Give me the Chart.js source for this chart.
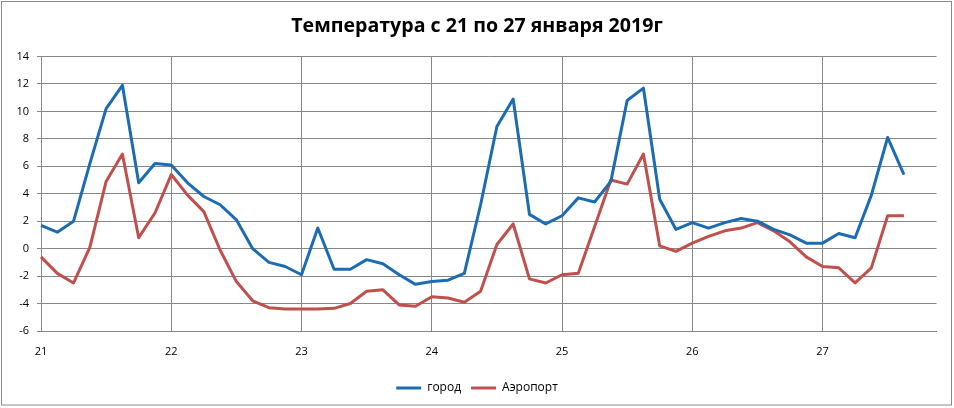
<!DOCTYPE html>
<html>
<head>
<meta charset="utf-8">
<script src="https://cdn.jsdelivr.net/npm/chart.js@4"></script>
<style>
    html, body { margin: 0; padding: 0; background: #ffffff; }
    #wrap { width: 954px; height: 408px; }
</style>
</head>
<body>
<div id="wrap"><canvas id="tempChart" width="954" height="408"></canvas></div>
<script>
// days on the x axis, 8 readings per day (every 3 hours)
const days = ['21', '22', '23', '24', '25', '26', '27'];
const pointsPerDay = 8;

const cityTemps = [1.7, 1.2, 2.0, 6.2, 10.2, 11.9, 4.8, 6.2, 6.1, 4.8, 3.8, 3.2, 2.1, 0.0, -1.0, -1.3, -1.9, 1.5,
    -1.5, -1.5, -0.8, -1.1, -1.9, -2.6, -2.4, -2.3, -1.8, 3.2, 8.9, 10.9, 2.5, 1.8, 2.4, 3.7, 3.4, 4.9,
    10.8, 11.7, 3.6, 1.4, 1.9, 1.5, 1.9, 2.2, 2.0, 1.4, 1.0, 0.4, 0.4, 1.1, 0.8, 3.9, 8.1, 5.4];

const airportTemps = [-0.6, -1.8, -2.5, 0.1, 4.9, 6.9, 0.8, 2.6, 5.4, 3.9, 2.7, -0.1, -2.4, -3.8, -4.3, -4.4, -4.4, -4.4,
    -4.35, -4.0, -3.1, -3.0, -4.1, -4.2, -3.5, -3.6, -3.9, -3.1, 0.3, 1.8, -2.2, -2.5, -1.9, -1.8, 1.6, 5.0,
    4.7, 6.9, 0.2, -0.2, 0.4, 0.9, 1.3, 1.5, 1.9, 1.3, 0.5, -0.6, -1.3, -1.4, -2.5, -1.4, 2.4, 2.4];

const seriesNames = ['город', 'Аэропорт'];
const titleText = 'Температура с 21 по 27 января 2019г';

const GRID = '#878787';
const CITY_COLOR = '#1b6cb3';
const AIRPORT_COLOR = '#c0504d';

function buildLabels() {
    let labels = [];
    days.forEach(day => {
        for (let i = 0; i < pointsPerDay; i++) {
            labels.push(i == 0 ? day : '');
        }
    });
    return labels;
}

// outer frame around the whole chart
const framePlugin = {
    id: 'frame',
    afterDraw(chart) {
        const ctx = chart.ctx;
        ctx.save();
        ctx.strokeStyle = '#8a8a8a';
        ctx.lineWidth = 1;
        ctx.strokeRect(1.5, 1.5, 950, 403.5);
        ctx.restore();
    }
};

function drawChart() {
    const ctx = document.getElementById('tempChart').getContext('2d');
    new Chart(ctx, {
        type: 'line',
        data: {
            labels: buildLabels(),
            datasets: [{
                label: seriesNames[0],
                data: cityTemps,
                borderColor: CITY_COLOR,
                backgroundColor: CITY_COLOR,
                borderWidth: 3,
                pointRadius: 0,
                tension: 0,
                borderJoinStyle: 'round'
            }, {
                label: seriesNames[1],
                data: airportTemps,
                borderColor: AIRPORT_COLOR,
                backgroundColor: AIRPORT_COLOR,
                borderWidth: 3,
                pointRadius: 0,
                tension: 0,
                borderJoinStyle: 'round'
            }]
        },
        options: {
            responsive: false,
            animation: false,
            layout: {
                padding: { left: 0, right: 0, top: 0, bottom: 4 }
            },
            plugins: {
                title: {
                    display: true,
                    text: titleText,
                    color: '#000000',
                    font: { family: 'Open Sans', size: 19.6, weight: 'bold' },
                    padding: { top: 15, bottom: 18 }
                },
                legend: {
                    position: 'bottom',
                    labels: {
                        color: '#000000',
                        font: { family: 'Open Sans', size: 12 },
                        usePointStyle: true,
                        pointStyle: 'line',
                        pointStyleWidth: 25,
                        padding: 10
                    }
                },
                tooltip: { enabled: false }
            },
            scales: {
                x: {
                    afterFit(scale) { scale.height = 41; },
                    grid: {
                        color: c => c.index % pointsPerDay == 0 ? GRID : 'rgba(0,0,0,0)',
                        drawTicks: false
                    },
                    border: { color: GRID },
                    ticks: {
                        autoSkip: false,
                        maxRotation: 0,
                        padding: 14,
                        color: '#000000',
                        font: { family: 'Open Sans', size: 11 }
                    }
                },
                y: {
                    min: -6,
                    max: 14,
                    afterFit(scale) { scale.width = 41; },
                    grid: { color: GRID, tickLength: 4 },
                    border: { color: GRID },
                    ticks: {
                        stepSize: 2,
                        padding: 8,
                        color: '#000000',
                        font: { family: 'Open Sans', size: 11 }
                    }
                },
                // empty right axis, only keeps the gap between plot and frame
                yRight: {
                    position: 'right',
                    afterFit(scale) { scale.width = 17.5; },
                    grid: { display: false },
                    border: { display: false },
                    ticks: { display: false }
                }
            }
        },
        plugins: [framePlugin]
    });
}

drawChart();
</script>
</body>
</html>
